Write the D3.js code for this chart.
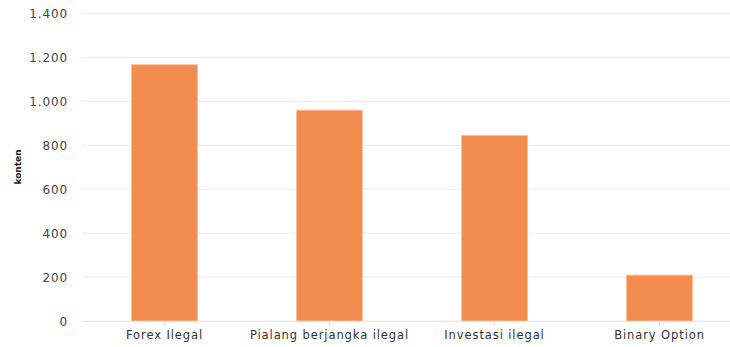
<!DOCTYPE html>
<html><head><meta charset="utf-8">
<script src="https://cdn.jsdelivr.net/npm/d3@7"></script>
<style>body{margin:0;background:#fff;} text{font-family:"DejaVu Sans",Verdana,sans-serif;}</style>
</head><body><svg id="c" width="730" height="347"></svg>
<script>
const categories = ["Forex Ilegal", "Pialang berjangka ilegal", "Investasi ilegal", "Binary Option"];
const values = [1167, 960, 845, 209];
const yTicks = [0, 200, 400, 600, 800, 1000, 1200, 1400];
const yTickLabels = ["0", "200", "400", "600", "800", "1.000", "1.200", "1.400"];
const yTitle = "konten";

const svg = d3.select("#c");
const x = d3.scaleBand().domain(categories).range([82, 742]).paddingInner(0.6).paddingOuter(0.3);
const y = d3.scaleLinear().domain([0, 1400]).range([321, 13.5]);

// gridlines
svg.append("g").selectAll("line").data(yTicks).join("line")
  .attr("x1", 82).attr("x2", 730)
  .attr("y1", d => y(d)).attr("y2", d => y(d))
  .attr("stroke", "#ececec").attr("stroke-width", 1);

// y axis labels
const yAxis = d3.axisLeft(y).tickValues(yTicks).tickSize(0).tickPadding(0)
  .tickFormat((d, i) => yTickLabels[i]);
const gy = svg.append("g").attr("transform", "translate(68,0)").call(yAxis);
gy.select(".domain").remove();
gy.selectAll("text").attr("font-size", 12).attr("fill", "#444").attr("letter-spacing", "0.9px")
  .attr("font-family", "DejaVu Sans, sans-serif").attr("dy", "0.35em");

// bars
svg.append("g").selectAll("rect").data(values).join("rect")
  .attr("x", (d, i) => x(categories[i]))
  .attr("width", x.bandwidth())
  .attr("y", d => y(d))
  .attr("height", d => y(0) - y(d))
  .attr("fill", "#f28d4f")
  .attr("stroke", "#f8c3a0").attr("stroke-width", 1);

// x axis
const xAxis = d3.axisBottom(x).tickSize(4).tickPadding(6);
const gx = svg.append("g").attr("transform", `translate(0,${y(0)})`).call(xAxis);
gx.select(".domain").attr("d", "M82,0.5H730").attr("stroke", "#e6e6e6");
gx.selectAll(".tick line").attr("stroke", "#ddd");
gx.selectAll("text").attr("font-size", 11.5).attr("fill", "#333").attr("letter-spacing", "0.9px")
  .attr("font-family", "DejaVu Sans, sans-serif");

// y title
svg.append("text").attr("transform", "translate(21,167) rotate(-90)")
  .attr("text-anchor", "middle").attr("font-size", 9).attr("font-weight", "bold")
  .attr("fill", "#222").text(yTitle);
</script></body></html>
